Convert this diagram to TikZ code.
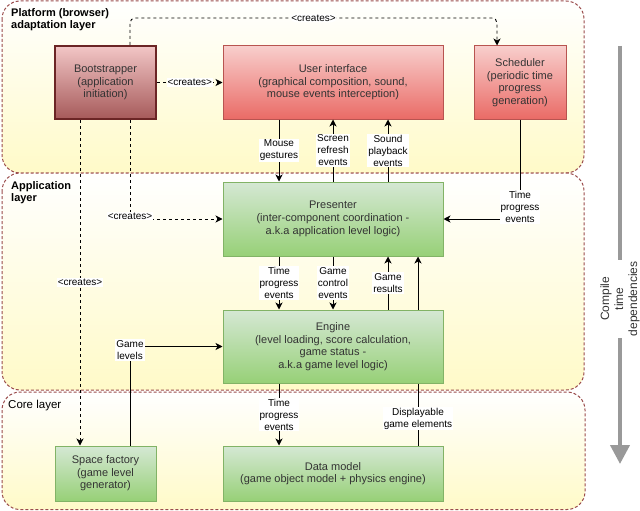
\documentclass[tikz,border=0pt]{standalone}
\usepackage{fontspec}
\setmainfont{Liberation Sans}
\usetikzlibrary{arrows.meta}
\definecolor{txt}{HTML}{333333}
\definecolor{layerborder}{HTML}{9A4B4B}
\definecolor{layerbot}{HTML}{FFFAC8}
\definecolor{redtop}{HTML}{F8CECC}
\definecolor{redbot}{HTML}{EA6B66}
\definecolor{redline}{HTML}{B85450}
\definecolor{bstop}{HTML}{F2C6C6}
\definecolor{bsbot}{HTML}{A65A5A}
\definecolor{bsline}{HTML}{6B2525}
\definecolor{grtop}{HTML}{D5E8D4}
\definecolor{grbot}{HTML}{97D077}
\definecolor{grline}{HTML}{82B366}
\definecolor{bigarrow}{HTML}{999999}
\pgfdeclarelayer{bg}
\pgfdeclarelayer{behind}
\pgfsetlayers{bg,behind,main}
\begin{document}
\begin{tikzpicture}[x=1pt,y=-1pt,
  layerbox/.style={draw=layerborder, line width=1pt, dash pattern=on 3pt off 2pt,
    rounded corners=18pt, top color=white, bottom color=layerbot},
  layerlbl/.style={anchor=north west, inner sep=0pt, align=left, text=black},
  box/.style={draw, line width=1pt, align=center, text=txt,
    font=\fontsize{11}{12.65}\selectfont, inner sep=0pt},
  redbox/.style={box, draw=redline, top color=redtop, bottom color=redbot},
  bootbox/.style={box, draw=bsline, line width=2pt, top color=bstop, bottom color=bsbot},
  greenbox/.style={box, draw=grline, top color=grtop, bottom color=grbot},
  lbl/.style={fill=white, inner sep=1pt, align=center, text=black,
    font=\fontsize{10}{12}\selectfont},
  conn/.style={draw=black, line width=0.9pt, -{Stealth[length=7pt,width=7pt,inset=2pt]}},
  creates/.style={conn, dash pattern=on 3pt off 3pt},
]
\useasboundingbox (0,0) rectangle (640,511);

% layers
\begin{pgfonlayer}{bg}
  \path[layerbox] (2,1) rectangle (584,173);
  \path[layerbox] (2,173) rectangle (584,390);
  \path[layerbox] (2,392) rectangle (585,509.5);
\end{pgfonlayer}
\node[layerlbl, font=\fontsize{11}{12.65}\selectfont\bfseries] (lplat) at (11,8) {Platform (browser)\\adaptation layer};
\node[layerlbl, font=\fontsize{11}{12.65}\selectfont\bfseries] (lapp) at (11,181) {Application\\layer};
\node[layerlbl, font=\fontsize{11.5}{13}\selectfont] (lcore) at (8,400) {Core layer};

% boxes
\node[bootbox, minimum width=101pt, minimum height=73pt] (boot) at (105.5,82.5) {Bootstrapper\\(application\\initiation)};
\node[redbox, minimum width=220pt, minimum height=73pt] (ui) at (333,82.5) {User interface\\(graphical composition, sound,\\mouse events interception)};
\node[redbox, minimum width=92pt, minimum height=73pt] (sched) at (520,82.5) {Scheduler\\(periodic time\\progress\\generation)};
\node[greenbox, minimum width=220pt, minimum height=74pt] (pres) at (333,219) {Presenter\\(inter-component coordination -\\a.k.a application level logic)};
\node[greenbox, minimum width=220pt, minimum height=73pt] (eng) at (333,346.5) {Engine\\(level loading, score calculation,\\game status -\\a.k.a game level logic)};
\node[greenbox, minimum width=101pt, minimum height=55pt] (space) at (105.5,473.5) {Space factory\\(game level\\generator)};
\node[greenbox, minimum width=220pt, minimum height=55pt] (data) at (333,473.5) {Data model\\(game object model + physics engine)};

% creates connectors
\coordinate (c1) at (130,18);
\draw[creates, rounded corners=5pt] ([xshift=24.5pt]boot.north) -- (c1) -| node[lbl, pos=0.25] {<creates>} ([xshift=-23pt]sched.north);
\draw[creates] (boot.east) -- node[lbl] {<creates>} (ui.west);
\draw[creates] ([xshift=24.5pt]boot.south) |- node[lbl, pos=0.5, yshift=3pt] {<creates>} (pres.west);
\draw[creates] ([xshift=-25.5pt]boot.south) -- node[lbl] {<creates>} ([xshift=-25.5pt]space.north);

% UI <-> presenter
\draw[conn] ([xshift=-54pt]ui.south) -- node[lbl] {Mouse\\gestures} ([xshift=-54pt]pres.north);
\draw[conn] (pres.north) -- node[lbl] {Screen\\refresh\\events} (ui.south);
\draw[conn] ([xshift=55pt]pres.north) -- node[lbl] {Sound\\playback\\events} ([xshift=55pt]ui.south);
\draw[conn] (sched.south) |- node[lbl, pos=0.44] {Time\\progress\\events} (pres.east);

% presenter <-> engine
\draw[conn] ([xshift=-54pt]pres.south) -- node[lbl] {Time\\progress\\events} ([xshift=-54pt]eng.north);
\draw[conn] (pres.south) -- node[lbl] {Game\\control\\events} (eng.north);
\draw[conn] ([xshift=55pt]eng.north) -- node[lbl] {Game\\results} ([xshift=55pt]pres.south);

% engine / core
\draw[conn] ([xshift=-54pt]eng.south) -- node[lbl] {Time\\progress\\events} ([xshift=-54pt]data.north);
\draw[conn] ([xshift=24.5pt]space.north) |- node[lbl, pos=0.5, yshift=-3.5pt] {Game\\levels} (eng.west);
\begin{pgfonlayer}{behind}
\draw[conn] ([xshift=85pt]data.north) -- node[lbl, pos=0.142] {Displayable\\game elements} ([xshift=85pt]pres.south);
\end{pgfonlayer}

% compile time dependencies arrow
\coordinate (ctop) at (620,46);
\coordinate (cbot) at (620,464);
\draw[bigarrow, line width=4pt, -{Triangle[length=19pt,width=19pt]}] (ctop) -- node[pos=0.605, fill=white, rotate=90, align=center, text=txt, inner sep=2pt, font=\fontsize{12}{14}\selectfont] {Compile\\time\\dependencies} (cbot);
\end{tikzpicture}
\end{document}
